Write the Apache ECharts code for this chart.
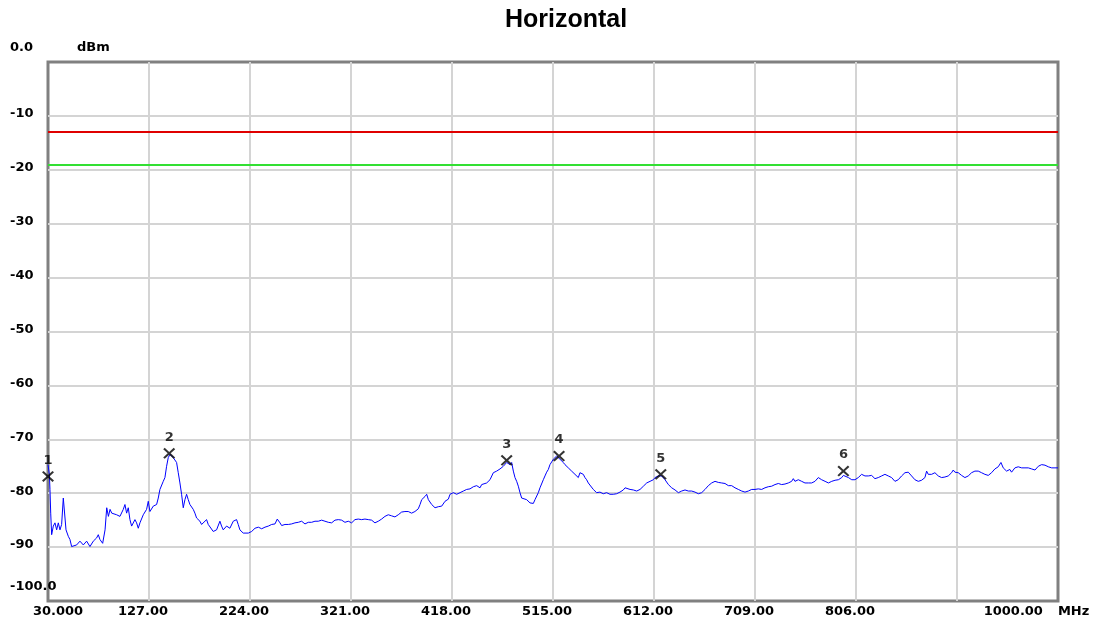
<!DOCTYPE html>
<html><head><meta charset="utf-8">
<script src="https://cdn.jsdelivr.net/npm/echarts@6/dist/echarts.min.js"></script>
<style>html,body{margin:0;padding:0;background:#fff}#c{width:1098px;height:626px}</style>
</head><body><div id="c"></div>
<script>
const chartTitle = 'Horizontal';
const freqMHz = [
30.0,31.3,31.9,32.6,33.5,35.1,36.7,38.3,39.9,41.5,43.1,44.7,46.3,47.3,49.5,51.1,52.7,54.3,57.5,60.7,
63.9,67.1,70.3,73.5,76.7,78.3,79.9,82.5,84.8,86.4,88.0,89.6,91.2,92.7,95.9,99.1,102.3,103.9,105.5,107.1,
108.7,110.3,113.5,115.1,116.7,118.3,121.5,124.7,126.3,127.9,131.1,134.3,135.9,137.5,139.1,140.7,142.3,143.9,145.5,147.1,
148.7,150.3,151.9,153.5,155.1,156.7,158.3,159.9,161.5,163.1,164.7,166.3,167.9,169.5,171.1,172.7,175.9,177.5,179.1,182.3,
183.9,185.5,188.7,191.9,195.1,196.7,198.3,201.5,204.7,207.9,211.1,212.7,214.3,217.5,
219.2,222.4,225.6,228.8,232.0,235.2,238.4,241.6,244.8,248.0,250.2,252.8,254.4,257.6,260.8,264.0,267.2,270.4,273.6,275.2,
276.8,280.0,283.2,286.4,289.6,292.8,296.0,299.2,302.4,305.6,308.8,312.0,315.2,318.4,321.6,324.8,328.0,331.2,334.4,337.6,
340.8,344.0,347.2,350.4,353.6,356.8,360.0,363.2,366.4,369.6,372.8,376.0,379.2,382.4,385.6,387.3,388.9,392.1,393.7,395.3,
398.5,401.7,404.9,408.1,411.3,414.5,
416.1,419.3,422.5,425.7,428.9,432.1,435.3,438.5,441.7,444.9,446.5,448.1,451.3,454.5,457.7,460.9,464.1,467.3,470.5,472.1,
473.7,475.3,476.9,478.5,480.1,481.7,483.3,484.9,486.5,489.7,491.3,492.9,494.5,496.1,497.7,499.3,500.9,502.5,504.1,505.7,
507.3,508.9,510.5,512.1,513.7,515.3,516.9,518.5,520.1,521.7,523.3,524.9,526.5,528.1,529.7,531.3,532.9,534.5,536.1,537.7,
539.3,540.9,542.5,544.1,545.7,547.3,548.9,550.5,553.7,556.9,560.1,563.3,566.5,569.7,572.9,576.1,579.3,582.5,584.2,585.8,
589.0,592.2,595.4,598.6,601.8,605.0,608.2,611.4,
613.0,616.2,619.4,622.6,625.8,629.0,632.2,635.4,638.6,641.8,645.0,648.2,651.4,654.6,656.2,657.8,661.0,664.2,667.4,670.6,
673.8,677.0,680.2,683.4,686.6,689.8,693.0,696.2,699.4,702.6,705.8,709.0,712.2,715.4,718.6,721.8,725.0,728.2,731.4,734.6,
737.8,741.0,744.2,745.8,747.4,750.6,753.8,757.0,760.2,763.4,766.6,769.8,771.4,773.0,776.3,779.5,782.7,785.9,789.1,792.3,
793.9,795.5,798.7,801.9,
805.0,808.2,811.4,814.6,817.8,821.0,824.2,827.4,830.6,833.8,837.0,840.2,843.4,846.6,849.8,853.0,856.2,859.4,862.6,865.8,
869.0,872.2,873.8,875.4,878.6,881.8,885.0,888.2,891.4,894.6,897.8,899.4,901.0,904.2,907.4,910.6,913.8,917.0,920.2,921.8,
923.4,926.6,929.8,933.0,936.2,939.4,942.6,945.2,947.4,950.6,952.2,953.8,955.4,958.6,961.8,965.1,968.3,971.5,974.7,977.9,
981.1,984.3,987.5,989.1,990.7,993.9,997.1,1000.0
];
const levelDbm = [
-74.7,-76.5,-79.3,-83.7,-87.7,-86.1,-85.5,-86.8,-85.5,-86.8,-85.8,-80.9,-81.2,-86.8,-88.0,-88.6,-89.9,-90.2,-89.6,-88.9,
-89.6,-88.9,-89.9,-88.9,-88.3,-87.7,-88.6,-89.3,-86.8,-82.7,-84.3,-83.0,-83.7,-83.4,-84.0,-84.3,-83.0,-82.1,-83.7,-82.7,
-84.9,-86.1,-84.9,-85.5,-86.5,-85.5,-84.0,-83.0,-81.5,-83.4,-82.4,-82.1,-80.9,-79.3,-79.6,-77.8,-77.1,-75.0,-73.4,-72.8,
-73.1,-73.4,-73.1,-74.3,-76.2,-78.1,-80.2,-82.7,-81.2,-80.2,-81.2,-82.1,-82.4,-83.0,-83.7,-84.6,-85.2,-85.8,-85.8,-84.9,
-85.8,-86.1,-87.1,-86.8,-85.2,-86.1,-86.8,-86.1,-86.5,-85.2,-84.9,-85.8,-86.8,-87.4,
-87.1,-87.4,-87.1,-86.5,-86.3,-86.6,-86.3,-86.1,-85.8,-85.7,-84.8,-85.5,-86.0,-85.8,-85.8,-85.7,-85.5,-85.4,-85.2,-85.5,
-85.7,-85.4,-85.4,-85.2,-85.2,-85.0,-85.2,-85.4,-85.5,-85.0,-84.9,-85.0,-85.4,-85.2,-85.5,-84.9,-84.8,-84.9,-84.8,-84.9,
-85.0,-85.5,-85.2,-84.8,-84.3,-84.0,-84.2,-84.4,-84.0,-83.5,-83.4,-83.4,-83.7,-83.4,-82.9,-82.1,-81.2,-80.6,-80.2,-81.2,
-82.1,-82.7,-82.5,-82.4,-81.5,-81.1,
-80.2,-79.9,-80.2,-79.9,-79.6,-79.3,-79.2,-78.8,-78.6,-79.0,-78.4,-78.6,-78.1,-77.5,-76.2,-75.9,-75.5,-75.0,-74.3,-74.0,
-74.7,-74.3,-75.9,-77.1,-77.8,-78.7,-79.9,-80.9,-80.9,-81.2,-81.5,-81.8,-81.5,-81.9,-81.2,-80.9,-79.9,-79.0,-78.7,-77.5,
-76.8,-76.1,-75.6,-74.7,-74.2,-73.7,-73.6,-73.1,-73.4,-73.7,-74.0,-74.3,-74.7,-75.0,-75.3,-75.6,-75.9,-76.2,-76.5,-76.8,
-77.1,-76.2,-76.5,-76.5,-77.1,-77.5,-78.1,-78.4,-79.3,-79.9,-79.8,-80.1,-79.9,-80.2,-80.2,-80.1,-79.8,-79.4,-79.0,-79.2,
-79.3,-79.4,-79.6,-79.3,-78.7,-78.1,-77.8,-77.5,
-77.1,-76.8,-76.8,-77.5,-78.4,-79.0,-79.4,-79.9,-79.6,-79.4,-79.6,-79.6,-79.8,-80.1,-80.4,-79.9,-79.3,-78.6,-78.1,-77.8,
-78.0,-78.1,-78.2,-78.6,-78.6,-79.0,-79.3,-79.6,-79.8,-79.6,-79.3,-79.3,-79.2,-79.3,-79.0,-78.8,-78.7,-78.4,-78.2,-78.4,
-78.3,-78.1,-77.8,-77.3,-77.8,-77.5,-77.8,-78.1,-78.1,-78.1,-77.8,-77.1,-76.8,-77.5,-77.8,-78.1,-77.8,-77.6,-77.5,-77.1,
-76.7,-76.8,-77.1,-77.5,
-77.5,-77.1,-76.5,-76.8,-76.8,-76.7,-77.3,-77.1,-76.8,-76.5,-76.8,-77.1,-77.8,-77.5,-76.8,-76.2,-76.1,-76.8,-77.5,-77.8,
-77.6,-77.1,-75.9,-76.5,-76.5,-76.2,-76.8,-77.1,-77.0,-76.8,-76.2,-75.7,-76.1,-76.2,-76.7,-77.1,-76.8,-76.2,-75.9,-75.6,
-75.9,-76.2,-76.5,-76.7,-76.2,-75.5,-75.1,-74.3,-75.3,-75.9,-76.2,-75.6,-76.1,-75.3,-75.1,-75.3,-75.3,-75.3,-75.5,-75.7,
-75.0,-74.7,-74.8,-74.7,-75.1,-75.3,-75.3,-75.3
];
const markerFreq = [30.0, 146.4, 470.5, 520.8, 618.5, 793.9];
const markerLevel = [-76.9, -72.6, -73.9, -73.1, -76.5, -75.9];
const markerNames = ['1', '2', '3', '4', '5', '6'];
const limitLevels = [-13, -19];
const xTickValues = [30, 127, 224, 321, 418, 515, 612, 709, 806, 903, 1000];
const xLabelValues = [30, 127, 224, 321, 418, 515, 612, 709, 806, 1000];
const xUnit = 'MHz';
const yUnit = 'dBm';
const yMin = -100, yMax = 0, yStep = 10;

const FONT = 'DejaVu Sans';
const limitColors = ['#e00000', '#33e033'];
const lblStyle = {fontFamily: FONT, fontWeight: 'bold', fontSize: 13, color: '#000'};
const chart = echarts.init(document.getElementById('c'), null, {renderer: 'canvas'});
const traceData = freqMHz.map((f, i) => [f, levelDbm[i]]);
const markerData = markerFreq.map((f, i) => [f, markerLevel[i], markerNames[i]]);
const xSymbol = 'path://M0,1.5L1.5,0L6,4.5L10.5,0L12,1.5L7.5,6L12,10.5L10.5,12L6,7.5L1.5,12L0,10.5L4.5,6Z';

chart.setOption({
  animation: false,
  backgroundColor: '#fff',
  title: {
    text: chartTitle, left: 505, top: 8, padding: 0,
    textStyle: {fontFamily: 'Liberation Sans', fontWeight: 'bold', fontSize: 25, color: '#000'}
  },
  grid: {left: 48, right: 40, top: 62, bottom: 25, show: true, borderColor: '#808080', borderWidth: 3, backgroundColor: 'transparent'},
  xAxis: {
    type: 'value', min: 30, max: 1000, interval: 97,
    axisLine: {show: false},
    axisTick: {show: false, customValues: xTickValues},
    splitLine: {show: true, showMinLine: false, showMaxLine: false, lineStyle: {color: '#d4d4d4', width: 2}},
    axisLabel: {
      customValues: xLabelValues, margin: 4, showMinLabel: true, showMaxLabel: true,
      fontFamily: FONT, fontWeight: 'bold', fontSize: 13, color: '#000',
      formatter: v => v === 30 ? '{f|30.000}' : (v === 1000 ? '{l|1000.00}{u|' + xUnit + '}' : '{n|' + v.toFixed(2) + '}'),
      rich: {
        f: Object.assign({}, lblStyle, {padding: [0, 0, 0, 20]}),
        l: Object.assign({}, lblStyle, {padding: [0, 15, 0, 0]}),
        u: Object.assign({}, lblStyle, {padding: [0, 43, 0, 0]}),
        n: Object.assign({}, lblStyle, {padding: [0, 12, 0, 0]})
      }
    }
  },
  yAxis: {
    type: 'value', min: yMin, max: yMax, interval: yStep,
    name: yUnit, nameLocation: 'end', nameGap: 14,
    nameTextStyle: Object.assign({}, lblStyle, {align: 'left', verticalAlign: 'middle', padding: [0, 0, 0, 29]}),
    axisLine: {show: false},
    axisTick: {show: false},
    splitLine: {show: true, showMinLine: false, showMaxLine: false, lineStyle: {color: '#d4d4d4', width: 2}},
    axisLabel: {
      align: 'left', margin: 38, showMinLabel: true, showMaxLabel: true,
      fontFamily: FONT, fontWeight: 'bold', fontSize: 13, color: '#000',
      formatter: v => v === 0 ? '{e|0.0}' : (v === -100 ? '{e|-100.0}' : '{n|' + v + '}'),
      rich: {
        e: Object.assign({}, lblStyle, {padding: [0, 0, 28, 0]}),
        n: Object.assign({}, lblStyle, {padding: [0, 0, 4, 0]})
      }
    }
  },
  series: [
    {
      type: 'line', data: traceData, showSymbol: false, symbol: 'none',
      lineStyle: {color: '#0000ff', width: 1}, z: 3,
      markLine: {
        silent: true, symbol: ['none', 'none'], label: {show: false},
        data: limitLevels.map((v, i) => ({yAxis: v, lineStyle: {color: limitColors[i], width: 2, type: 'solid'}}))
      }
    },
    {
      type: 'scatter', data: markerData, clip: false, z: 5,
      symbol: xSymbol, symbolSize: [12, 11],
      itemStyle: {color: '#000'},
      label: {show: true, position: 'top', distance: 4, formatter: p => p.data[2], fontFamily: FONT, fontWeight: 'bold', fontSize: 13, color: '#000'}
    }
  ]
});
</script></body></html>
